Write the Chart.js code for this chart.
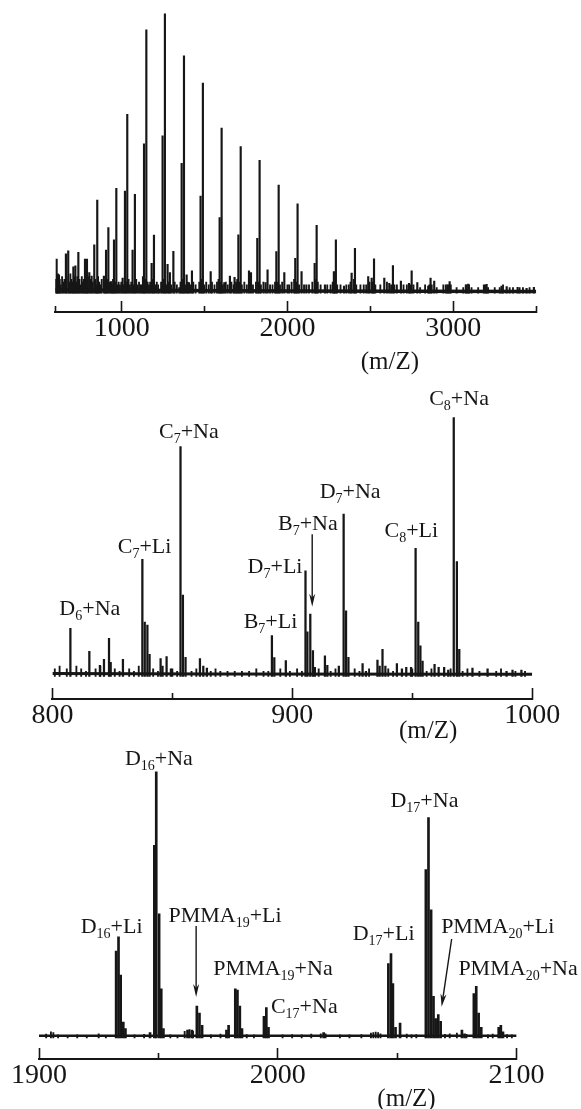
<!DOCTYPE html>
<html>
<head>
<meta charset="utf-8">
<script src="https://cdn.jsdelivr.net/npm/chart.js@4.4.0/dist/chart.umd.min.js"></script>
<style>
  html, body { margin: 0; padding: 0; background: #fff; }
  #wrap { position: relative; width: 581px; height: 1109px; overflow: hidden; }
  canvas { position: absolute; left: 0; }
</style>
</head>
<body>
<div id="wrap">
  <canvas id="full" width="581" height="385" style="top:0"></canvas>
  <canvas id="zoomA" width="581" height="360" style="top:385px"></canvas>
  <canvas id="zoomB" width="581" height="364" style="top:745px"></canvas>
</div>
<script>
const INK = "#161616"
const SERIF = "'Liberation Serif', 'Times New Roman', serif"

// ---- panel 1: whole spectrum, m/z 600-3500 (intensity in % of the highest peak)
const fullTicks = [600, 1000, 1500, 2000, 2500, 3000, 3500]
const fullLabels = [1000, 2000, 3000]
const fullPeaks = [
  [608, 12.2], [622, 6.6], [664, 14.1], [678, 15.2], [709, 9.5], [721, 9.8], [739, 14.7],
  [779, 12.2], [791, 12.2], [805, 7.4], [819, 6.2], [835, 17.3], [853, 33.4], [893, 6.2],
  [906, 15.5], [920, 23.5], [936, 4.2], [954, 19.1], [968, 37.6], [1006, 5.4], [1020, 36.6],
  [1034, 64.1], [1066, 15.5], [1080, 35.4], [1121, 3], [1135, 53.5], [1149, 94.3], [1181, 10.7],
  [1195, 20.8], [1227, 1.4], [1247, 56.4], [1261, 100], [1277, 10.4], [1291, 7.4], [1312, 15],
  [1348, 2], [1362, 46.5], [1376, 85], [1392, 6.6], [1406, 3.8], [1424, 8], [1476, 34.8],
  [1490, 75.2], [1537, 7.8], [1591, 27.1], [1603, 59.1], [1619, 3.8], [1653, 6.2], [1681, 5.7],
  [1704, 20.9], [1718, 52.5], [1768, 8], [1780, 7.4], [1818, 19.7], [1832, 47.6], [1868, 3.8],
  [1880, 8.4], [1933, 14.9], [1947, 38.7], [1981, 7.4], [2047, 12.5], [2061, 32], [2085, 7.8],
  [2114, 3], [2164, 10.7], [2176, 24.3], [2226, 3], [2280, 7.8], [2292, 19.1], [2341, 2.6],
  [2387, 7.2], [2407, 16.1], [2487, 6], [2508, 5.4], [2522, 12.3], [2584, 5.4], [2614, 3.6],
  [2636, 9.9], [2684, 4.4], [2733, 3.6], [2749, 8], [2783, 3.8], [2849, 2.6], [2863, 5.4],
  [2885, 4.4], [2964, 3], [2978, 4.2], [3080, 3], [3090, 3.3], [3185, 3], [3201, 3.2],
  [3291, 2.6], [3322, 2.4], [3388, 2.1], [3442, 1.8], [3486, 2.1],
]
const fullNoise = [
  [603, 5], [611, 4], [616, 7], [627, 5], [633, 3], [641, 6], [648, 4], [655, 5], [668, 6],
  [684, 4], [691, 7], [697, 5], [704, 4], [714, 6], [727, 4], [733, 6], [746, 5], [752, 3],
  [760, 6], [766, 4], [772, 5], [786, 4], [797, 6], [812, 5], [826, 4], [842, 5], [848, 3],
  [858, 6], [865, 4], [872, 3], [880, 5], [899, 4], [912, 5], [927, 4], [942, 3], [948, 5],
  [960, 4], [975, 3], [982, 4], [990, 3], [998, 4], [1012, 3], [1027, 4], [1042, 5], [1050, 3],
  [1058, 4], [1073, 3], [1088, 5], [1096, 3], [1105, 4], [1113, 3], [1128, 6], [1142, 5],
  [1157, 4], [1165, 3], [1172, 4], [1188, 5], [1203, 3], [1212, 4], [1220, 3], [1238, 4],
  [1254, 5], [1269, 3], [1284, 4], [1300, 3], [1320, 4], [1333, 3], [1355, 4], [1369, 5],
  [1384, 3], [1398, 4], [1415, 3], [1432, 4], [1446, 3], [1468, 4], [1483, 5], [1498, 3],
  [1510, 4], [1525, 3], [1545, 4], [1560, 3], [1575, 4], [1584, 5], [1596, 4], [1610, 3],
  [1628, 4], [1640, 3], [1662, 4], [1675, 3], [1690, 4], [1697, 5], [1711, 4], [1725, 3],
  [1740, 4], [1755, 3], [1792, 3], [1810, 4], [1825, 4], [1840, 3], [1855, 4], [1895, 3],
  [1910, 3], [1925, 4], [1940, 4], [1955, 3], [1968, 4], [2000, 3], [2010, 3], [2025, 4],
  [2040, 5], [2054, 4], [2070, 3], [2100, 3], [2130, 3], [2150, 4], [2170, 5], [2183, 4],
  [2200, 3], [2240, 3], [2260, 3], [2273, 4], [2285, 5], [2300, 3], [2320, 3], [2355, 3],
  [2370, 3], [2380, 4], [2400, 5], [2415, 3], [2440, 3], [2460, 3], [2475, 3], [2495, 4],
  [2515, 4], [2530, 3], [2560, 3], [2600, 4], [2625, 3], [2645, 3], [2660, 3], [2700, 3],
  [2720, 3], [2740, 3], [2760, 3], [2800, 2], [2830, 3], [2855, 3], [2870, 3], [2900, 2],
  [2940, 3], [2955, 3], [2970, 3], [2985, 3], [3020, 2], [3060, 2], [3075, 3], [3095, 3],
  [3110, 2], [3150, 2], [3195, 3], [3210, 2], [3250, 2], [3280, 2], [3300, 3], [3340, 2],
  [3360, 2], [3400, 2], [3420, 2], [3460, 2],
]
const fullBase = [[600, 1.3], [1000, 1.1], [2000, 0.8], [3500, 0.6]]

// ---- panel 2: m/z 800-1000
const zoomATicks = [800, 850, 900, 950, 1000]
const zoomALabels = [800, 900, 1000]
const zoomAPeaks = [
  [807.5, 18.6], [815.4, 9.7], [819.8, 4.3], [821.5, 6.6], [823.6, 14.7], [824.3, 5.5], [829.4, 6.6],
  [837.5, 45.3], [838.5, 21], [839.6, 19.9], [840.5, 8.6],
  [845.1, 6.9], [845.9, 4], [847.6, 7.7], [849.4, 3],
  [853.4, 88.8], [854.4, 31.5], [855.5, 7.4],
  [861.5, 6.9], [862.9, 4], [864.4, 3.2],
  [891.5, 15.8], [892.5, 7.3], [897.3, 6.1],
  [905.5, 40.8], [906.3, 17.3], [907.5, 24.1], [908.6, 10], [909.4, 3.5],
  [913.6, 8], [914.6, 4.3], [919.4, 4],
  [921.4, 62.8], [922.4, 25.4], [923.4, 7.4],
  [929.3, 5], [930.7, 2], [935.5, 6.3], [936.4, 4], [937.6, 10.5], [938.8, 4], [943.6, 5],
  [945.7, 3], [947.5, 3.5], [949.5, 3.5],
  [951.4, 49.5], [952.5, 21], [953.4, 11.8], [954.3, 6],
  [959.3, 4.7], [961, 3.5], [963.3, 3.5], [965, 2.5],
  [967.3, 100], [968.6, 44.4], [969.6, 10.5],
  [975.1, 3.2], [981.4, 3], [989.3, 2], [991.8, 2.5], [995.5, 2.5],
]
const zoomANoise = [
  [801, 3], [803, 4], [806, 3], [810, 4], [812, 3], [814, 2], [818, 3], [820, 4], [826, 3],
  [828, 2], [832, 3], [834, 2], [836, 4], [842, 3], [844, 2], [850, 3], [852, 2], [858, 2],
  [860, 3], [866, 2], [868, 3], [870, 2], [873, 2], [876, 2], [879, 2], [882, 2], [885, 3],
  [888, 2], [890, 2], [895, 3], [899, 2], [902, 3], [904, 2], [911, 3], [916, 2], [918, 3],
  [926, 3], [928, 2], [932, 3], [940, 3], [942, 2], [950, 3], [956, 2], [958, 3], [966, 3],
  [971, 2], [973, 3], [978, 2], [985, 2], [987, 3], [993, 2], [997, 2],
]
const zoomABase = [[800, 1.2], [870, 1], [1000, 0.9]]
const zoomANames = [
  { text: ["D", "6", "+Na"], x: 815.6, y: 23.8 },
  { text: ["C", "7", "+Li"], x: 838.4, y: 47.7 },
  { text: ["C", "7", "+Na"], x: 856.9, y: 92.2 },
  { text: ["B", "7", "+Li"], x: 890.9, y: 18.7 },
  { text: ["D", "7", "+Li"], x: 892.8, y: 40 },
  { text: ["B", "7", "+Na"], x: 906.5, y: 56.6 },
  { text: ["D", "7", "+Na"], x: 924.1, y: 68.9 },
  { text: ["C", "8", "+Li"], x: 949.6, y: 53.9 },
  { text: ["C", "8", "+Na"], x: 969.5, y: 104.9 },
]
const zoomAArrows = [[908.3, 55, 908.3, 26.9]]

// ---- panel 3: m/z 1900-2100
const zoomBTicks = [1900, 1950, 2000, 2050, 2100]
const zoomBLabels = [1900, 2000, 2100]
const zoomBPeaks = [
  [1932.3, 32.7], [1933.3, 38], [1934.2, 23.6], [1935.3, 6], [1936.2, 3.5],
  [1946.5, 2], [1948.3, 72.4], [1949.1, 100], [1950.3, 46.7], [1951.2, 18.5], [1952.1, 3.5],
  [1962.2, 3], [1964, 3], [1966.1, 12], [1967.2, 9.4], [1968.3, 4.8],
  [1978.5, 3], [1979.4, 4.8], [1982.2, 18.5], [1983.1, 18], [1984.1, 12], [1985, 3.5],
  [1994.2, 8.1], [1995.2, 11.4], [1996.1, 4],
  [2019.2, 2],
  [2046.3, 28], [2047.4, 31.7], [2048.2, 20.4], [2049.3, 4], [2051.2, 5.6],
  [2062, 63.3], [2063.1, 82.8], [2064.2, 48.2], [2065.2, 15.7], [2066.1, 7.3], [2067.2, 8.8], [2068.2, 6.3],
  [2077.1, 3], [2078.2, 1.6],
  [2082.1, 16.7], [2083.1, 19.4], [2084.1, 9.4], [2085.2, 4],
  [2092.5, 4], [2093.4, 4.8], [2094.3, 2.3],
]
const zoomBNoise = [
  [1903, 1.5], [1905, 2.3], [1906, 2], [1908, 1.2], [1912, 1], [1916, 1.2], [1920, 1], [1925, 1.6],
  [1928, 1], [1940, 1.2], [1944, 1.4], [1955, 1.2], [1958, 1], [1961, 2.5], [1963, 3.2], [1964.5, 2.6],
  [1972, 1.2], [1976, 1.5], [1987, 1.3], [1990, 1.2], [2002, 1.2], [2006, 1.3], [2010, 1.2],
  [2014, 1.5], [2018, 1.6], [2020, 1.6], [2026, 1.2], [2030, 1.2], [2035, 1.3], [2039, 1.8],
  [2040, 2], [2041, 2.2], [2042, 2], [2043, 1.6], [2054, 1.5], [2056, 1.2], [2058, 1.3],
  [2070, 1.4], [2072, 1.6], [2075, 1.8], [2079, 1.4], [2088, 1.2], [2090, 1.5], [2096, 1.3], [2098, 1.2],
]
const zoomBBase = [[1900, 0.8], [2100, 0.8]]
const zoomBNames = [
  { text: ["D", "16", "+Na"], x: 1950.2, y: 102.6 },
  { text: ["D", "16", "+Li"], x: 1930.4, y: 39.5 },
  { text: ["PMMA", "19", "+Li"], x: 1977.9, y: 43.6 },
  { text: ["PMMA", "19", "+Na"], x: 1998, y: 23.7 },
  { text: ["C", "17", "+Na"], x: 2011.1, y: 9.4 },
  { text: ["D", "17", "+Li"], x: 2044.3, y: 36.8 },
  { text: ["D", "17", "+Na"], x: 2061.4, y: 86.8 },
  { text: ["PMMA", "20", "+Li"], x: 2092.1, y: 39.5 },
  { text: ["PMMA", "20", "+Na"], x: 2100.6, y: 23.7 },
]
const zoomBArrows = [[1965.8, 42.1, 1965.8, 15.4], [2072.8, 37.2, 2068.6, 11.7]]

const toXY = (pairs) => pairs.map(([x, y]) => ({ x, y }))

function drawArrow(ctx, x1, y1, x2, y2) {
  const a = Math.atan2(y2 - y1, x2 - x1)
  const c = Math.cos(a)
  const s = Math.sin(a)
  const len = 13
  const half = 3
  ctx.lineWidth = 1.4
  ctx.beginPath()
  ctx.moveTo(x1, y1)
  ctx.lineTo(x2 - c * len * 0.6, y2 - s * len * 0.6)
  ctx.stroke()
  ctx.beginPath()
  ctx.moveTo(x2, y2)
  ctx.lineTo(x2 - c * len + s * half, y2 - s * len - c * half)
  ctx.lineTo(x2 - c * len * 0.7, y2 - s * len * 0.7)
  ctx.lineTo(x2 - c * len - s * half, y2 - s * len + c * half)
  ctx.closePath()
  ctx.fill()
}

// peak names, arrows and the "(m/Z)" caption, placed through the chart scales
const peakLabels = {
  id: "peakLabels",
  afterDraw(chart, _args, opts) {
    const { ctx, chartArea } = chart
    const x = chart.scales.x
    const y = chart.scales.y
    ctx.save()
    ctx.fillStyle = INK
    ctx.strokeStyle = INK
    ctx.textBaseline = "alphabetic"
    ctx.textAlign = "left"
    for (const item of opts.names || []) {
      const [main, sub, rest] = item.text
      ctx.font = `22px ${SERIF}`
      const w1 = ctx.measureText(main).width
      const w3 = ctx.measureText(rest).width
      ctx.font = `14px ${SERIF}`
      const w2 = ctx.measureText(sub).width
      const px = x.getPixelForValue(item.x) - (w1 + w2 + w3) / 2
      const py = y.getPixelForValue(item.y)
      ctx.font = `22px ${SERIF}`
      ctx.fillText(main, px, py)
      ctx.fillText(rest, px + w1 + w2, py)
      ctx.font = `14px ${SERIF}`
      ctx.fillText(sub, px + w1, py + 5)
    }
    for (const [ax, ay, bx, by] of opts.arrows || []) {
      drawArrow(ctx, x.getPixelForValue(ax), y.getPixelForValue(ay), x.getPixelForValue(bx), y.getPixelForValue(by))
    }
    ctx.font = `25px ${SERIF}`
    ctx.textAlign = "center"
    ctx.textBaseline = "middle"
    ctx.fillText("(m/Z)", x.getPixelForValue(opts.titleAt), chartArea.bottom + opts.titleDrop)
    ctx.restore()
  },
}

function spectrum(id, p) {
  return new Chart(document.getElementById(id), {
    type: "bar",
    data: {
      datasets: [
        {
          type: "line",
          data: toXY(p.base),
          borderColor: INK,
          borderWidth: p.baseWidth,
          pointRadius: 0,
          tension: 0,
        },
        { data: toXY(p.noise), backgroundColor: INK, barThickness: 1.2, grouped: false },
        { data: toXY(p.peaks), backgroundColor: INK, barThickness: p.barWidth, grouped: false },
      ],
    },
    options: {
      responsive: false,
      animation: false,
      events: [],
      layout: { padding: p.pad },
      plugins: {
        legend: { display: false },
        tooltip: { enabled: false },
        peakLabels: { names: p.names, arrows: p.arrows, titleAt: p.titleAt, titleDrop: p.titleDrop },
      },
      scales: {
        x: {
          type: "linear",
          min: p.ticks[0],
          max: p.ticks[p.ticks.length - 1],
          offset: false,
          afterBuildTicks: (s) => {
            s.ticks = p.ticks.map((v) => ({ value: v }))
          },
          ticks: {
            autoSkip: false,
            maxRotation: 0,
            padding: 11,
            color: INK,
            font: { family: SERIF, size: 28 },
            callback: (v) => (p.labels.includes(v) ? String(v) : ""),
          },
          grid: {
            offset: false,
            drawOnChartArea: false,
            tickLength: -11,
            tickWidth: 1.6,
            tickColor: INK,
            tickBorderDash: (c) => (c.tick && p.labels.includes(c.tick.value) ? [] : [7, 40]),
          },
          border: { color: INK, width: 2 },
        },
        y: { display: false, min: p.yMin, max: p.yMax },
      },
    },
    plugins: [peakLabels],
  })
}

spectrum("full", {
  ticks: fullTicks, labels: fullLabels, peaks: fullPeaks, noise: fullNoise, base: fullBase,
  baseWidth: 3.5, barWidth: 1.5, yMin: -6.7, yMax: 101.4,
  pad: { top: 10, bottom: 28.4, left: 55.3, right: 44.8 },
  names: [], arrows: [], titleAt: 2618, titleDrop: 50,
})

spectrum("zoomA", {
  ticks: zoomATicks, labels: zoomALabels, peaks: zoomAPeaks, noise: zoomANoise, base: zoomABase,
  baseWidth: 3, barWidth: 1.6, yMin: -8.7, yMax: 104.9,
  pad: { top: 20, bottom: 1.4, left: 52.4, right: 48.8 },
  names: zoomANames, arrows: zoomAArrows, titleAt: 956.6, titleDrop: 32,
})

spectrum("zoomB", {
  ticks: zoomBTicks, labels: zoomBLabels, peaks: zoomBPeaks, noise: zoomBNoise, base: zoomBBase,
  baseWidth: 2.5, barWidth: 2, yMin: -7.9, yMax: 102.6,
  pad: { top: 20, bottom: 5.4, left: 37.2, right: 64.4 },
  names: zoomBNames, arrows: zoomBArrows, titleAt: 2053.9, titleDrop: 40,
})
</script>
</body>
</html>
